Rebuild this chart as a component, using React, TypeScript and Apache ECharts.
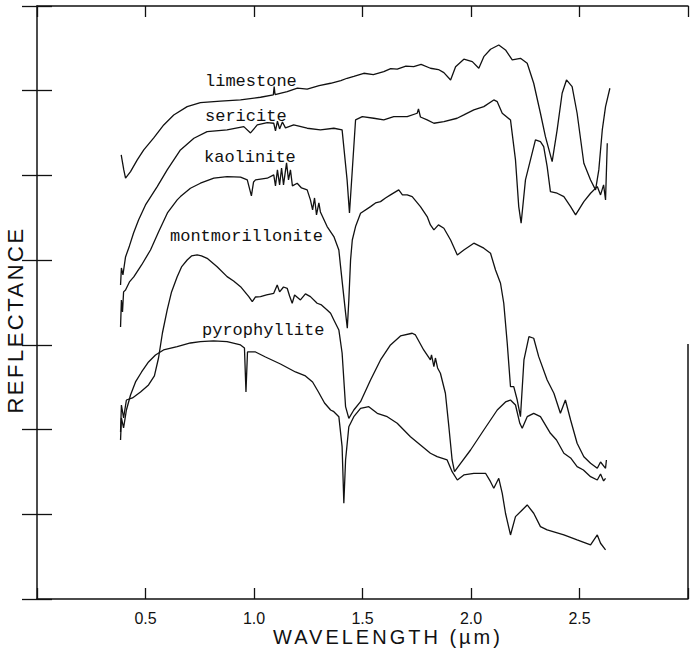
import React, { useEffect, useRef } from "react";
import * as echarts from "echarts";

// wavelength (µm), relative reflectance (offset units, 0..7)
const limestone: [number, number][] = [
  [0.388, 5.242], [0.4, 5.065], [0.408, 4.967], [0.431, 5.045], [0.462, 5.183], [0.492, 5.301],
  [0.538, 5.443], [0.584, 5.596], [0.63, 5.714], [0.692, 5.812], [0.753, 5.859], [0.846, 5.876],
  [0.938, 5.891], [1.03, 5.923], [1.089, 5.95], [1.093, 6.048], [1.097, 5.955], [1.153, 5.989],
  [1.2, 6.03], [1.245, 6.018], [1.3, 6.06], [1.353, 6.088], [1.4, 6.12], [1.429, 6.147],
  [1.46, 6.17], [1.506, 6.206], [1.55, 6.19], [1.598, 6.225], [1.63, 6.26], [1.66, 6.254],
  [1.7, 6.29], [1.736, 6.284], [1.77, 6.31], [1.813, 6.265], [1.85, 6.25], [1.875, 6.213],
  [1.906, 6.127], [1.929, 6.284], [1.967, 6.372], [2.006, 6.343], [2.036, 6.265], [2.059, 6.402],
  [2.09, 6.49], [2.128, 6.54], [2.159, 6.481], [2.19, 6.363], [2.228, 6.383], [2.259, 6.324],
  [2.289, 6.088], [2.32, 5.734], [2.343, 5.458], [2.374, 5.163], [2.397, 5.537], [2.42, 5.97],
  [2.44, 6.127], [2.466, 6.048], [2.489, 5.734], [2.52, 5.144], [2.551, 4.947], [2.574, 4.829],
  [2.589, 5.065], [2.605, 5.537], [2.62, 5.812], [2.64, 6.029]
];

const sericite: [number, number][] = [
  [0.385, 3.707], [0.389, 3.908], [0.396, 3.825], [0.408, 4.038], [0.426, 4.168], [0.445, 4.321],
  [0.468, 4.475], [0.5, 4.652], [0.554, 4.868], [0.6, 5.065], [0.661, 5.301], [0.723, 5.439],
  [0.784, 5.517], [0.876, 5.537], [0.953, 5.576], [0.984, 5.502], [1.015, 5.596], [1.061, 5.623],
  [1.091, 5.616], [1.099, 5.525], [1.108, 5.64], [1.118, 5.549], [1.131, 5.631], [1.145, 5.561],
  [1.183, 5.596], [1.245, 5.557], [1.306, 5.537], [1.368, 5.557], [1.406, 5.537], [1.429, 4.947],
  [1.44, 4.557], [1.453, 5.065], [1.468, 5.655], [1.499, 5.694], [1.552, 5.675], [1.598, 5.655],
  [1.644, 5.694], [1.706, 5.694], [1.752, 5.734], [1.758, 5.785], [1.767, 5.69], [1.798, 5.655],
  [1.829, 5.616], [1.875, 5.635], [1.936, 5.675], [1.967, 5.714], [2.013, 5.773], [2.059, 5.812],
  [2.105, 5.891], [2.121, 5.871], [2.144, 5.734], [2.182, 5.655], [2.205, 5.183], [2.22, 4.632],
  [2.231, 4.436], [2.251, 4.947], [2.274, 5.183], [2.297, 5.419], [2.32, 5.399], [2.335, 5.34],
  [2.351, 5.104], [2.366, 4.809], [2.397, 4.79], [2.428, 4.75], [2.459, 4.632], [2.482, 4.534],
  [2.52, 4.691], [2.551, 4.79], [2.582, 4.868], [2.597, 4.77], [2.611, 4.888], [2.62, 4.711],
  [2.628, 5.38]
];

const kaolinite: [number, number][] = [
  [0.385, 3.211], [0.389, 3.53], [0.394, 3.388], [0.399, 3.625], [0.408, 3.648], [0.426, 3.743],
  [0.446, 3.802], [0.482, 3.943], [0.523, 4.12], [0.56, 4.333], [0.601, 4.557], [0.646, 4.711],
  [0.661, 4.75], [0.707, 4.849], [0.753, 4.908], [0.815, 4.967], [0.876, 4.986], [0.938, 4.979],
  [0.969, 4.947], [0.988, 4.758], [0.998, 4.923], [1.007, 4.947], [1.061, 4.967], [1.091, 5.006],
  [1.099, 4.876], [1.108, 5.065], [1.118, 4.888], [1.127, 5.088], [1.136, 4.888], [1.15, 5.148],
  [1.159, 4.947], [1.168, 5.065], [1.177, 4.876], [1.199, 4.908], [1.219, 4.852], [1.245, 4.829],
  [1.26, 4.711], [1.27, 4.593], [1.279, 4.734], [1.288, 4.534], [1.299, 4.675], [1.306, 4.569],
  [1.337, 4.396], [1.368, 4.278], [1.391, 4.12], [1.399, 3.923], [1.407, 3.731], [1.422, 3.377],
  [1.43, 3.196], [1.437, 3.53], [1.445, 4.002], [1.453, 4.238], [1.468, 4.396], [1.491, 4.554],
  [1.537, 4.632], [1.56, 4.675], [1.583, 4.691], [1.606, 4.734], [1.629, 4.77], [1.667, 4.829],
  [1.684, 4.77], [1.706, 4.77], [1.729, 4.75], [1.767, 4.632], [1.798, 4.514], [1.813, 4.416],
  [1.829, 4.357], [1.85, 4.416], [1.875, 4.377], [1.906, 4.238], [1.937, 4.061], [1.967, 4.12],
  [2.013, 4.2], [2.059, 4.141], [2.09, 4.081], [2.113, 3.884], [2.136, 3.727], [2.151, 3.491],
  [2.167, 3.019], [2.182, 2.506], [2.197, 2.506], [2.213, 2.349], [2.228, 2.152], [2.244, 2.822],
  [2.267, 3.097], [2.289, 3.078], [2.312, 2.861], [2.351, 2.586], [2.382, 2.429], [2.412, 2.192],
  [2.435, 2.349], [2.459, 2.113], [2.489, 1.838], [2.52, 1.68], [2.551, 1.602], [2.582, 1.543],
  [2.597, 1.617], [2.62, 1.543], [2.624, 1.641]
];

const montmorillonite: [number, number][] = [
  [0.385, 1.972], [0.389, 2.29], [0.399, 2.137], [0.412, 2.349], [0.44, 2.373], [0.477, 2.444],
  [0.514, 2.527], [0.541, 2.633], [0.56, 2.845], [0.578, 3.14], [0.6, 3.412], [0.62, 3.625],
  [0.646, 3.805], [0.666, 3.92], [0.692, 4.002], [0.712, 4.05], [0.738, 4.061], [0.758, 4.05],
  [0.784, 4.022], [0.83, 3.923], [0.876, 3.805], [0.906, 3.754], [0.938, 3.687], [0.976, 3.569],
  [0.992, 3.51], [1.007, 3.565], [1.03, 3.569], [1.058, 3.589], [1.091, 3.609], [1.107, 3.707],
  [1.118, 3.625], [1.136, 3.683], [1.153, 3.668], [1.164, 3.577], [1.176, 3.491], [1.187, 3.589],
  [1.214, 3.53], [1.237, 3.601], [1.26, 3.569], [1.291, 3.491], [1.311, 3.471], [1.337, 3.412],
  [1.353, 3.373], [1.368, 3.294], [1.391, 3.176], [1.406, 2.904], [1.422, 2.27], [1.437, 2.133],
  [1.46, 2.231], [1.491, 2.329], [1.537, 2.586], [1.583, 2.822], [1.629, 2.999], [1.675, 3.105],
  [1.729, 3.137], [1.744, 3.117], [1.782, 2.94], [1.813, 2.822], [1.818, 2.881], [1.829, 2.743],
  [1.836, 2.845], [1.846, 2.727], [1.859, 2.665], [1.882, 2.429], [1.898, 2.034], [1.913, 1.641],
  [1.924, 1.503], [1.952, 1.602], [1.998, 1.759], [2.059, 1.995], [2.121, 2.231], [2.159, 2.326],
  [2.182, 2.349], [2.205, 2.29], [2.225, 2.074], [2.236, 2.015], [2.259, 2.152], [2.289, 2.192],
  [2.32, 2.152], [2.366, 1.956], [2.394, 1.877], [2.428, 1.72], [2.459, 1.665], [2.489, 1.562],
  [2.518, 1.523], [2.551, 1.444], [2.582, 1.405], [2.597, 1.476], [2.611, 1.393], [2.62, 1.425]
];

const pyrophyllite: [number, number][] = [
  [0.385, 1.877], [0.389, 2.137], [0.399, 2.019], [0.412, 2.231], [0.431, 2.408], [0.454, 2.562],
  [0.482, 2.68], [0.514, 2.798], [0.546, 2.881], [0.583, 2.94], [0.646, 2.979], [0.707, 3.022],
  [0.753, 3.038], [0.813, 3.046], [0.876, 3.038], [0.938, 2.999], [0.956, 2.963], [0.963, 2.444],
  [0.97, 2.916], [1.007, 2.916], [1.053, 2.857], [1.122, 2.774], [1.191, 2.68], [1.237, 2.633],
  [1.27, 2.562], [1.297, 2.444], [1.325, 2.314], [1.353, 2.231], [1.368, 2.211], [1.391, 2.152],
  [1.406, 1.798], [1.414, 1.13], [1.422, 1.641], [1.437, 2.034], [1.46, 2.152], [1.491, 2.251],
  [1.529, 2.27], [1.568, 2.192], [1.614, 2.152], [1.66, 2.074], [1.721, 1.916], [1.767, 1.818],
  [1.813, 1.72], [1.844, 1.68], [1.89, 1.641], [1.913, 1.503], [1.937, 1.405], [1.967, 1.464],
  [2.013, 1.484], [2.067, 1.484], [2.09, 1.385], [2.105, 1.307], [2.128, 1.425], [2.144, 1.248],
  [2.159, 1.012], [2.182, 0.756], [2.205, 0.972], [2.236, 1.051], [2.259, 1.11], [2.289, 1.012],
  [2.32, 0.854], [2.351, 0.815], [2.428, 0.756], [2.489, 0.697], [2.551, 0.638], [2.582, 0.756],
  [2.597, 0.658], [2.62, 0.579]
];

const seriesNames = ["limestone", "sericite", "kaolinite", "montmorillonite", "pyrophyllite"];
const seriesData = [limestone, sericite, kaolinite, montmorillonite, pyrophyllite];
const xTickLabels = ["0.5", "1.0", "1.5", "2.0", "2.5"];
const X_TITLE = "WAVELENGTH (µm)";
const Y_TITLE = "REFLECTANCE";

const INK = "#111111";

export default function App() {
  const ref = useRef<HTMLDivElement>(null);

  useEffect(() => {
    if (!ref.current) return;
    const chart = echarts.init(ref.current, undefined, { renderer: "svg" });

    const labelFont = "17px 'Liberation Mono', monospace";
    const labelSpecs: [string, number, number][] = [
      ["limestone", 205, 81],
      ["sericite", 205, 116],
      ["kaolinite", 204, 157],
      ["montmorillonite", 170, 236],
      ["pyrophyllite", 202, 330],
    ];

    const baseXAxis = {
      type: "value" as const,
      min: 0,
      max: 3,
      interval: 0.5,
      axisLine: { show: true, onZero: false, lineStyle: { color: INK, width: 1.5 } },
      axisTick: { show: true, inside: true, length: 11, lineStyle: { color: INK, width: 1.3 } },
      splitLine: { show: false },
    };
    const baseYAxis = {
      type: "value" as const,
      min: 0,
      max: 7,
      interval: 1,
      axisLabel: { show: false },
      axisLine: { show: true, onZero: false, lineStyle: { color: INK, width: 1.5 } },
      axisTick: { show: true, inside: true, length: 15, lineStyle: { color: INK, width: 1.3 } },
      splitLine: { show: false },
    };

    chart.setOption({
      animation: false,
      backgroundColor: "#ffffff",
      grid: { left: 37, right: 4, top: 6, bottom: 56, containLabel: false },
      xAxis: [
        {
          ...baseXAxis,
          position: "bottom",
          axisLabel: {
            show: true,
            margin: 11,
            color: INK,
            fontSize: 16,
            fontFamily: "'Liberation Sans', Arial, sans-serif",
            formatter: (v: number) => {
              const s = v.toFixed(1);
              return xTickLabels.indexOf(s) >= 0 ? s : "";
            },
          },
        },
        { ...baseXAxis, position: "top", axisLabel: { show: false } },
      ],
      yAxis: [
        { ...baseYAxis, position: "left" },
        { ...baseYAxis, position: "right", axisLine: { show: false } },
      ],
      series: seriesData.map((d, i) => ({
        name: seriesNames[i],
        type: "line",
        xAxisIndex: 0,
        yAxisIndex: 0,
        data: d,
        showSymbol: false,
        symbol: "none",
        smooth: false,
        lineStyle: { color: INK, width: 1.3 },
        emphasis: { disabled: true },
      })),
      graphic: [
        ...labelSpecs.map(([t, x, y]) => ({
          type: "text",
          x,
          y,
          silent: true,
          style: { text: t, font: labelFont, fill: INK, align: "left", verticalAlign: "middle" },
        })),
        {
          type: "line",
          silent: true,
          shape: { x1: 688, y1: 344, x2: 688, y2: 599 },
          style: { stroke: INK, lineWidth: 1.5 },
        },
        {
          type: "text",
          x: 15,
          y: 320,
          rotation: Math.PI / 2,
          silent: true,
          style: {
            text: Y_TITLE,
            font: "22px 'Liberation Sans', Arial, sans-serif",
            fill: INK,
            align: "center",
            verticalAlign: "middle",
          },
        },
        {
          type: "text",
          x: 388,
          y: 637,
          silent: true,
          style: {
            text: X_TITLE,
            font: "20px 'Liberation Sans', Arial, sans-serif",
            fill: INK,
            align: "center",
            verticalAlign: "middle",
          },
        },
      ],
    });

    const applySpacing = () => {
      const root = ref.current;
      if (!root) return;
      root.querySelectorAll("text").forEach((t) => {
        const s = t.textContent || "";
        if (s === Y_TITLE) t.setAttribute("letter-spacing", "2.5");
        if (s === X_TITLE) t.setAttribute("letter-spacing", "3");
      });
    };
    applySpacing();
    chart.on("finished", applySpacing);

    return () => chart.dispose();
  }, []);

  return (
    <div
      ref={ref}
      style={{ position: "absolute", left: 0, top: 0, width: 692, height: 655, background: "#fff" }}
    />
  );
}
